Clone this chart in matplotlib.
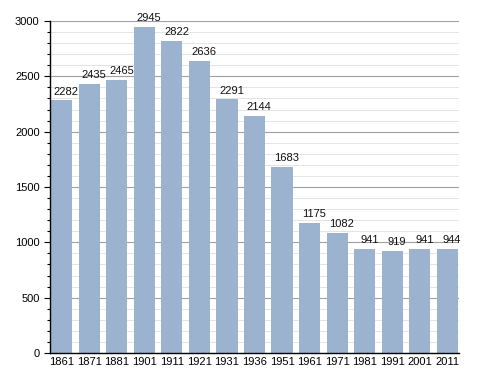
import matplotlib.pyplot as plt
import numpy as np
from matplotlib.ticker import MultipleLocator

plt.rcParams['font.family'] = ['Liberation Sans', 'DejaVu Sans']

# population by census year
years = ['1861', '1871', '1881', '1901', '1911', '1921', '1931', '1936',
         '1951', '1961', '1971', '1981', '1991', '2001', '2011']
pop = [2282, 2435, 2465, 2945, 2822, 2636, 2291, 2144,
       1683, 1175, 1082, 941, 919, 941, 944]

fig = plt.figure(figsize=(4.88, 3.73), dpi=100)
ax = fig.add_axes([0.1025, 0.0536, 0.838, 0.89])

x = np.arange(len(years))
ax.bar(x, pop, width=0.77, color='#9bb3cf', zorder=2)

# value labels sit a little right of the bar centre, like the original
for xi, v in zip(x, pop):
    ax.text(xi + 0.17, v + 35, str(v), ha='center', va='bottom', fontsize=8, color='#111111')

ax.set_xlim(-0.42, len(years) - 0.58)
ax.set_ylim(0, 3000)
ax.set_xticks(x)
ax.set_xticklabels(years, fontsize=8)
ax.yaxis.set_major_locator(MultipleLocator(500))
ax.yaxis.set_minor_locator(MultipleLocator(100))
ax.tick_params(axis='y', labelsize=8, length=4, width=0.8)
ax.tick_params(axis='y', which='minor', length=2.5, width=0.8)
ax.tick_params(axis='x', length=0, pad=3)

ax.grid(axis='y', which='major', color='#a0a0a0', lw=0.8, zorder=0)
ax.grid(axis='y', which='minor', color='#e4e4e4', lw=0.7, zorder=0)
ax.set_axisbelow(True)

for s in ['top', 'right']:
    ax.spines[s].set_visible(False)
ax.spines['left'].set_linewidth(1.0)
ax.spines['bottom'].set_linewidth(1.0)

plt.savefig('out.png', dpi=100)
